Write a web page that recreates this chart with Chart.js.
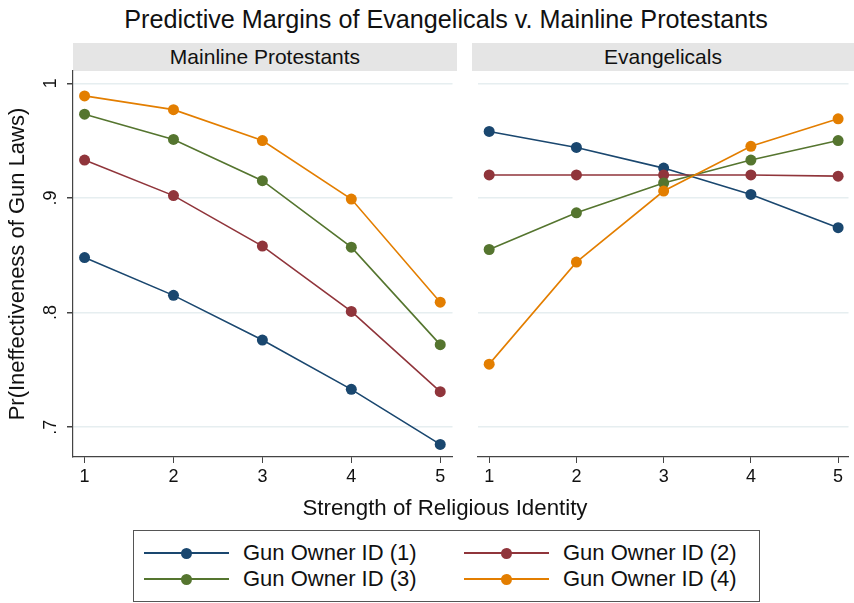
<!DOCTYPE html>
<html><head><meta charset="utf-8">
<script src="https://cdn.jsdelivr.net/npm/chart.js@4.4.1/dist/chart.umd.min.js"></script>
<style>
html,body{margin:0;padding:0;background:#fff}
body{width:854px;height:603px;position:relative;overflow:hidden;font-family:"Liberation Sans",Arial,Helvetica,sans-serif;color:#111}
.abs{position:absolute;white-space:nowrap}
#title{left:96px;width:700px;top:7px;text-align:center;font-size:25.2px;line-height:24px}
.hdr{top:43px;height:28px;background:#e5e5e5;text-align:center;font-size:21px;line-height:28px}
#xtitle{left:245px;width:400px;top:497px;text-align:center;font-size:22.3px;line-height:22px}
#legend{left:133px;top:530px;width:625px;height:70px;border:1px solid #555;box-sizing:content-box}
.lline{position:absolute;height:2px;width:85px}
.ldot{position:absolute;width:11px;height:11px;border-radius:50%}
.ltext{position:absolute;font-size:22px;line-height:26px;white-space:nowrap}
canvas{position:absolute;top:0}
</style>
</head><body>
<div id="title" class="abs"></div>
<div id="hdrL" class="abs hdr" style="left:73px;width:384px"></div>
<div id="hdrR" class="abs hdr" style="left:472px;width:382px"></div>
<canvas id="left" width="458" height="500" style="left:0px"></canvas>
<canvas id="right" width="382" height="500" style="left:472px"></canvas>
<div id="xtitle" class="abs"></div>
<div id="legend" class="abs"></div>
<script>
const chartTitle = 'Predictive Margins of Evangelicals v. Mainline Protestants';
const panelNames = ['Mainline Protestants', 'Evangelicals'];
const xAxisTitle = 'Strength of Religious Identity';
const yAxisTitle = 'Pr(Ineffectiveness of Gun Laws)';
const categories = [1, 2, 3, 4, 5];
const seriesLabels = ['Gun Owner ID (1)', 'Gun Owner ID (2)', 'Gun Owner ID (3)', 'Gun Owner ID (4)'];
const seriesColors = ['#1a476f', '#90353b', '#55752f', '#e37e00'];
const mainlineGO1 = [0.848, 0.815, 0.776, 0.733, 0.685];
const mainlineGO2 = [0.933, 0.902, 0.858, 0.801, 0.731];
const mainlineGO3 = [0.973, 0.951, 0.915, 0.857, 0.772];
const mainlineGO4 = [0.989, 0.977, 0.950, 0.899, 0.809];
const evangelicalGO1 = [0.958, 0.944, 0.926, 0.903, 0.874];
const evangelicalGO2 = [0.920, 0.920, 0.920, 0.920, 0.919];
const evangelicalGO3 = [0.855, 0.887, 0.913, 0.933, 0.950];
const evangelicalGO4 = [0.755, 0.844, 0.906, 0.945, 0.969];
const yTickValues = [0.7, 0.8, 0.9, 1.0];
const yTickLabels = ['.7', '.8', '.9', '1'];

document.getElementById('title').textContent = chartTitle;
document.getElementById('hdrL').textContent = panelNames[0];
document.getElementById('hdrR').textContent = panelNames[1];
document.getElementById('xtitle').textContent = xAxisTitle;

// legend
const legend = document.getElementById('legend');
const legPos = [[10, 22], [330, 22], [10, 48], [330, 48]];
seriesLabels.forEach((lab, i) => {
  const [lx, cy] = legPos[i];
  const ln = document.createElement('div'); ln.className = 'lline';
  ln.style.left = lx + 'px'; ln.style.top = (cy - 1) + 'px'; ln.style.background = seriesColors[i];
  const dot = document.createElement('div'); dot.className = 'ldot';
  dot.style.left = (lx + 37) + 'px'; dot.style.top = (cy - 5.5) + 'px'; dot.style.background = seriesColors[i];
  const tx = document.createElement('div'); tx.className = 'ltext';
  tx.style.left = (lx + 99) + 'px'; tx.style.top = (cy - 13) + 'px'; tx.textContent = lab;
  legend.appendChild(ln); legend.appendChild(dot); legend.appendChild(tx);
});

Chart.defaults.font.family = '"Liberation Sans", Arial, Helvetica, sans-serif';
Chart.defaults.color = '#111';

function buildDatasets(seriesList) {
  return seriesList.map((vals, i) => ({
    label: seriesLabels[i],
    data: categories.map((c, j) => ({ x: c, y: vals[j] })),
    borderColor: seriesColors[i],
    backgroundColor: seriesColors[i],
    pointBackgroundColor: seriesColors[i],
    pointBorderWidth: 0,
    pointRadius: 5.5,
    borderWidth: 1.6,
    tension: 0,
    order: seriesList.length - i
  }));
}

function makeChart(id, seriesList, xmin, xmax, showY) {
  return new Chart(document.getElementById(id), {
    type: 'line',
    data: { datasets: buildDatasets(seriesList) },
    options: {
      responsive: false, animation: false, devicePixelRatio: 1,
      layout: { padding: { top: 71, left: 0, right: showY ? 1 : 0, bottom: 0 } },
      plugins: { legend: { display: false }, tooltip: { enabled: false } },
      scales: {
        x: {
          type: 'linear', min: xmin, max: xmax,
          afterBuildTicks: s => { s.ticks = categories.map(v => ({ value: v })); },
          afterFit: s => { s.height = 43; },
          grid: { drawOnChartArea: false, drawTicks: true, tickLength: 6, tickColor: '#444', lineWidth: 1 },
          border: { display: true, color: '#444', width: 1.2 },
          ticks: { font: { size: 18 }, color: '#111', padding: 3, maxRotation: 0 }
        },
        y: {
          min: 0.674, max: 1.0107,
          afterBuildTicks: s => { s.ticks = yTickValues.map(v => ({ value: v })); },
          afterFit: s => { s.width = showY ? 73 : 0; },
          grid: { color: '#e6eef0', lineWidth: 1.5, drawTicks: showY, tickLength: 6, tickColor: '#444' },
          border: { display: showY, color: '#444', width: 1.2 },
          title: { display: showY, text: yAxisTitle, font: { size: 22 }, color: '#111', padding: { top: 5, bottom: 0 } },
          ticks: {
            display: showY, font: { size: 18 }, color: '#111', padding: 8, minRotation: 90, maxRotation: 90, crossAlign: 'center',
            callback: v => { const k = yTickValues.findIndex(t => Math.abs(t - v) < 1e-9); return k >= 0 ? yTickLabels[k] : ''; }
          }
        }
      }
    }
  });
}

makeChart('left', [mainlineGO1, mainlineGO2, mainlineGO3, mainlineGO4], 0.870, 5.138, true);
makeChart('right', [evangelicalGO1, evangelicalGO2, evangelicalGO3, evangelicalGO4], 0.866, 5.119, false);
</script>
</body></html>
